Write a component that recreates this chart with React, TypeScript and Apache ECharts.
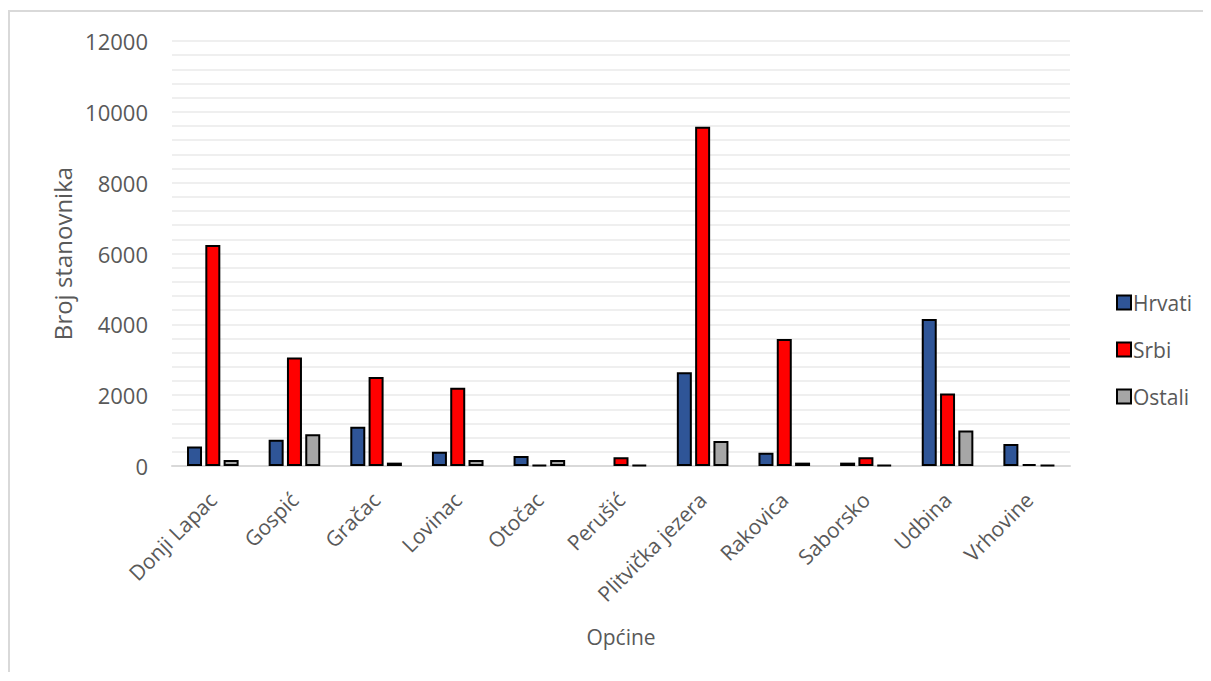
import React, { useEffect, useRef } from "react";
import * as echarts from "echarts";

const categories = [
  "Donji Lapac",
  "Gospić",
  "Gračac",
  "Lovinac",
  "Otočac",
  "Perušić",
  "Plitvička jezera",
  "Rakovica",
  "Saborsko",
  "Udbina",
  "Vrhovine",
];
const hrvati = [550, 740, 1110, 405, 280, null, 2650, 375, 95, 4150, 620];
const srbi = [6240, 3065, 2510, 2210, 30, 245, 9580, 3585, 245, 2050, 55];
const ostali = [170, 900, 95, 170, 170, 30, 705, 95, 30, 1000, 30];
const seriesNames = ["Hrvati", "Srbi", "Ostali"];
const seriesColors = ["#2f5597", "#ff0000", "#a6a6a6"];

const FONT = "'Open Sans', sans-serif";
const TXT = "#595959";

export default function App() {
  const ref = useRef<HTMLDivElement>(null);
  useEffect(() => {
    if (!ref.current) return;
    const chart = echarts.init(ref.current, null, { renderer: "svg" });
    const datasets = [hrvati, srbi, ostali];
    chart.setOption({
      animation: false,
      backgroundColor: "#ffffff",
      grid: { left: 162, right: 141, top: 29, bottom: 206, containLabel: false },
      legend: {
        orient: "vertical",
        left: 1101,
        top: 275,
        itemWidth: 14,
        itemHeight: 14,
        itemGap: 26,
        icon: "rect",
        textStyle: { fontFamily: FONT, fontSize: 21, color: TXT, padding: [0, 0, 0, -3] },
        data: seriesNames,
      },
      xAxis: {
        type: "category",
        data: categories,
        name: "Općine",
        nameLocation: "middle",
        nameGap: 160,
        nameTextStyle: { fontFamily: FONT, fontSize: 21, color: TXT },
        axisLine: { lineStyle: { color: "#d9d9d9", width: 2 } },
        axisTick: { show: false },
        axisLabel: {
          rotate: 45,
          interval: 0,
          margin: 30,
          fontFamily: FONT,
          fontSize: 21,
          color: TXT,
        },
      },
      yAxis: {
        type: "value",
        min: 0,
        max: 12000,
        interval: 2000,
        name: "Broj stanovnika",
        nameLocation: "middle",
        nameGap: 98,
        nameTextStyle: { fontFamily: FONT, fontSize: 24, color: TXT },
        axisLine: { show: false },
        axisTick: { show: false },
        axisLabel: {
          fontFamily: FONT,
          fontSize: 22,
          color: TXT,
          margin: 24,
          formatter: (v: number) => String(v),
        },
        splitLine: { lineStyle: { color: "#efefef", width: 2 } },
        minorTick: { show: false, splitNumber: 5 },
        minorSplitLine: { show: true, lineStyle: { color: "#efefef", width: 2 } },
      },
      series: seriesNames.map((n, i) => ({
        name: n,
        type: "bar",
        data: datasets[i],
        barWidth: 15,
        barGap: "22%",
        itemStyle: { color: seriesColors[i], borderColor: "#000000", borderWidth: 2 },
      })),
    });
    return () => chart.dispose();
  }, []);
  return (
    <div style={{ paddingTop: 2 }}>
      <div
        style={{
          width: 1203,
          boxSizing: "border-box",
          borderTop: "2px solid #d9d9d9",
          borderLeft: "2px solid #d9d9d9",
        }}
      >
        <div ref={ref} style={{ width: 1201, height: 660 }} />
      </div>
    </div>
  );
}
